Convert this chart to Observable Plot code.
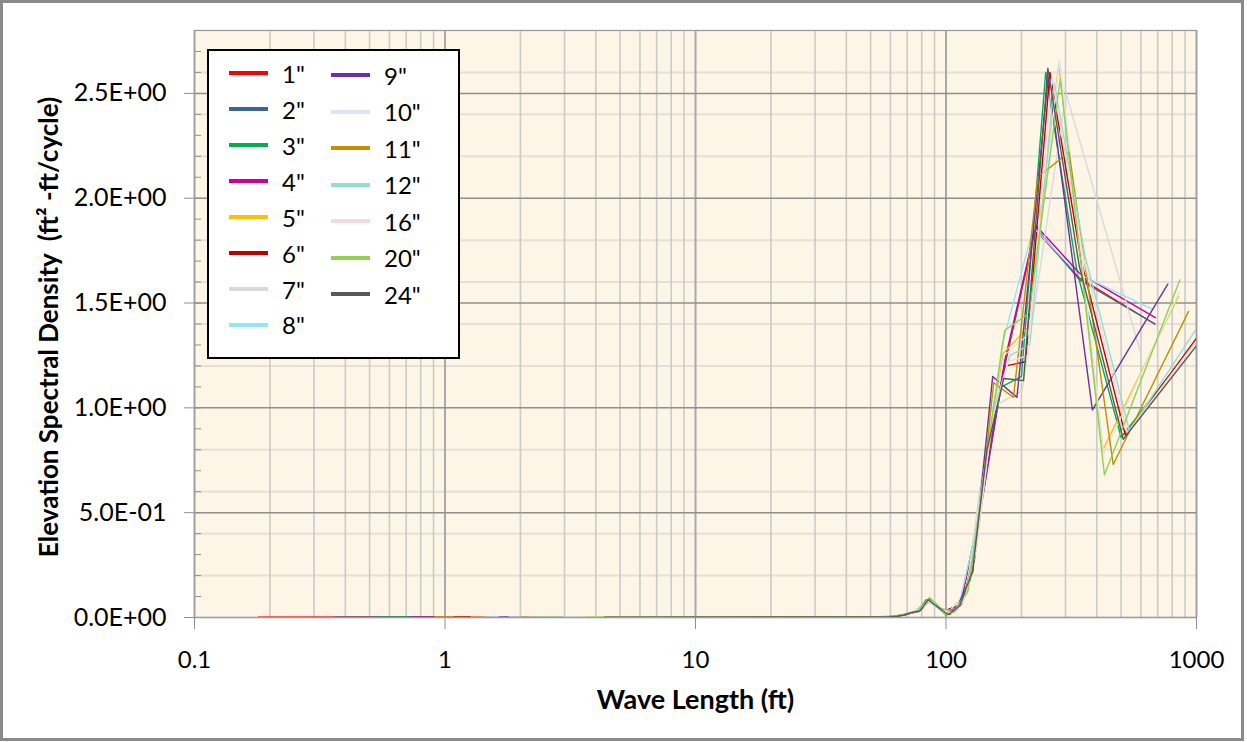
<!DOCTYPE html>
<html>
<head>
<meta charset="utf-8">
<script src="https://cdn.jsdelivr.net/npm/d3@7"></script>
<script src="https://cdn.jsdelivr.net/npm/@observablehq/plot@0.6"></script>
<style>
  html, body { margin: 0; padding: 0; background: #fff; }
  #wrap { position: relative; width: 1247px; height: 742px; overflow: hidden; font-family: Lato, "Open Sans", sans-serif; }
  #chart { position: absolute; left: 0; top: 0; }
  #border { position: absolute; left: 0; top: 0; width: 1244px; height: 741px; border: 3px solid #8a8a8a; box-sizing: border-box; pointer-events: none; }
  #legend { position: absolute; left: 207px; top: 49px; width: 253px; height: 310px; box-sizing: border-box; border: 2px solid #000; background: #fff; }
  .item { position: absolute; height: 30px; display: flex; align-items: center; font-size: 24px; color: #000; white-space: nowrap; }
  .item .sw { width: 39px; height: 4px; margin-right: 14px; }
</style>
</head>
<body>
<div id="wrap">
  <div id="chart"></div>
  <div id="legend"></div>
  <div id="border"></div>
</div>
<script>
// Series: sampling interval of each profile
const seriesNames = ['1"', '2"', '3"', '4"', '5"', '6"', '7"', '8"', '9"', '10"', '11"', '12"', '16"', '20"', '24"'];
const seriesColors = ["#FF0000", "#3E6494", "#00B050", "#CC0099", "#FFC000", "#C00000", "#D9D9D9", "#93E5F7",
                      "#7030A0", "#DCE6F2", "#C09000", "#92DED3", "#F2DCDB", "#92D050", "#595959"];

// Wave length (ft) and elevation spectral density (ft²-ft/cycle) for each series
const wl01 = [0.18, 50, 56.8, 62, 68, 75.7, 85, 97.3, 113.5, 136, 170, 227, 340.5, 681];
const psd01 = [0.002, 0.003, 0.003, 0.005, 0.013, 0.027, 0.085, 0.03, 0.055, 0.48, 1.18, 1.85, 1.62, 1.40];

const wl02 = [0.36, 50, 56.9, 62.1, 68.3, 75.9, 85.4, 97.6, 113.8, 136.6, 170.8, 227.7, 341.5, 683];
const psd02 = [0.002, 0.003, 0.003, 0.005, 0.013, 0.027, 0.085, 0.028, 0.06, 0.50, 1.20, 1.86, 1.61, 1.40];

const wl03 = [0.545, 50, 55.6, 58.8, 62.5, 66.7, 71.4, 76.9, 83.3, 90.9, 100, 111.1, 125, 142.9, 166.7, 200, 250, 333.3, 500, 1000];
const psd03 = [0.002, 0.003, 0.004, 0.004, 0.006, 0.011, 0.02, 0.028, 0.085, 0.06, 0.012, 0.045, 0.18, 0.72, 1.10, 1.15, 2.60, 1.65, 0.86, 1.32];

const wl04 = [0.724, 50, 57.1, 62.3, 68.5, 76.1, 85.6, 97.9, 114.2, 137, 171.3, 228.3, 342.5, 685];
const psd04 = [0.002, 0.003, 0.003, 0.005, 0.013, 0.028, 0.09, 0.03, 0.06, 0.52, 1.22, 1.87, 1.64, 1.43];

const wl05 = [0.91, 50, 56.4, 60.4, 65.1, 70.5, 76.9, 84.6, 94, 105.8, 120.9, 141, 169.2, 211.5, 282, 423, 846];
const psd05 = [0.002, 0.003, 0.004, 0.005, 0.009, 0.018, 0.028, 0.085, 0.045, 0.02, 0.11, 0.64, 1.26, 1.38, 2.64, 0.80, 1.53];

const wl06 = [1.087, 50, 57.8, 61.2, 65, 69.3, 74.3, 80, 86.7, 94.5, 104, 115.6, 130, 148.6, 173.3, 208, 260, 346.7, 520, 1040];
const psd06 = [0.002, 0.003, 0.004, 0.005, 0.008, 0.015, 0.025, 0.04, 0.085, 0.045, 0.016, 0.065, 0.28, 0.86, 1.20, 1.22, 2.60, 1.70, 0.87, 1.36];

const wl07 = [1.27, 50, 54.8, 60.3, 67, 75.4, 86.1, 100.5, 120.6, 150.8, 201, 301.5, 603];
const psd07 = [0.002, 0.003, 0.003, 0.004, 0.012, 0.027, 0.08, 0.015, 0.12, 1.00, 1.08, 2.50, 1.25];

const wl08 = [1.455, 50, 55.8, 60.9, 67, 74.4, 83.8, 95.7, 111.7, 134, 167.5, 223.3, 335, 670];
const psd08 = [0.002, 0.003, 0.003, 0.005, 0.012, 0.026, 0.08, 0.035, 0.04, 0.45, 1.30, 1.86, 1.64, 1.47];

const wl09 = [1.64, 50, 54.9, 59.1, 64, 69.8, 76.8, 85.3, 96, 109.7, 128, 153.6, 192, 256, 384, 768];
const psd09 = [0.002, 0.003, 0.003, 0.004, 0.007, 0.015, 0.028, 0.09, 0.035, 0.035, 0.22, 1.15, 1.05, 2.58, 0.99, 1.59];

const wl10 = [1.80, 50, 56.8, 60.9, 65.5, 71, 77.5, 85.2, 94.7, 106.5, 121.7, 142, 170.4, 213, 284, 426, 852];
const psd10 = [0.002, 0.003, 0.004, 0.005, 0.01, 0.02, 0.03, 0.085, 0.045, 0.02, 0.12, 0.70, 1.25, 1.35, 2.66, 0.78, 1.55];

const wl11 = [2.01, 50, 58.1, 62, 66.4, 71.5, 77.5, 84.5, 93, 103.3, 116.3, 132.9, 155, 186, 232.5, 310, 465, 930];
const psd11 = [0.002, 0.003, 0.005, 0.006, 0.011, 0.02, 0.03, 0.085, 0.05, 0.015, 0.07, 0.36, 1.12, 1.05, 2.10, 2.22, 0.73, 1.46];

const wl12 = [2.17, 50, 56.8, 60, 63.5, 67.5, 72, 77.1, 83.1, 90, 98.2, 108, 120, 135, 154.3, 180, 216, 270, 360, 540, 1080];
const psd12 = [0.002, 0.003, 0.004, 0.005, 0.007, 0.013, 0.022, 0.03, 0.07, 0.07, 0.03, 0.025, 0.11, 0.42, 0.98, 1.25, 1.30, 2.55, 1.72, 0.89, 1.44];

const wl16 = [2.99, 50, 55.8, 58.9, 62.4, 66.3, 70.7, 75.7, 81.5, 88.3, 96.4, 106, 117.8, 132.5, 151.4, 176.7, 212, 265, 353.3, 530, 1060];
const psd16 = [0.002, 0.003, 0.004, 0.004, 0.006, 0.01, 0.018, 0.027, 0.05, 0.08, 0.035, 0.02, 0.08, 0.33, 0.92, 1.22, 1.25, 2.58, 1.72, 0.88, 1.36];

const wl20 = [3.65, 50, 57.2, 61.3, 66, 71.5, 78, 85.8, 95.3, 107.3, 122.6, 143, 171.6, 214.5, 286, 429, 858];
const psd20 = [0.002, 0.003, 0.004, 0.006, 0.012, 0.022, 0.035, 0.095, 0.045, 0.025, 0.13, 0.72, 1.37, 1.45, 2.57, 0.68, 1.61];

const wl24 = [4.32, 50, 53.7, 56.7, 60, 63.8, 68, 72.9, 78.5, 85, 92.7, 102, 113.3, 127.5, 145.7, 170, 204, 255, 340, 510, 1020];
const psd24 = [0.002, 0.003, 0.003, 0.003, 0.004, 0.006, 0.012, 0.024, 0.03, 0.085, 0.05, 0.013, 0.055, 0.22, 0.80, 1.14, 1.13, 2.62, 1.68, 0.85, 1.31];

// Axis ticks and labels
const xTicks = [0.1, 1, 10, 100, 1000];
const xTickLabels = ["0.1", "1", "10", "100", "1000"];
const yTicks = [0, 0.5, 1.0, 1.5, 2.0, 2.5];
const yTickLabels = ["0.0E+00", "5.0E-01", "1.0E+00", "1.5E+00", "2.0E+00", "2.5E+00"];
const xTitle = "Wave Length (ft)";
const yTitle = "Elevation Spectral Density\u00a0 (ft\u00b2 -ft/cycle)";

const wavelengths = [wl01, wl02, wl03, wl04, wl05, wl06, wl07, wl08, wl09, wl10, wl11, wl12, wl16, wl20, wl24];
const densities = [psd01, psd02, psd03, psd04, psd05, psd06, psd07, psd08, psd09, psd10, psd11, psd12, psd16, psd20, psd24];

// Long table, in series order so the coarser samplings draw on top
const rows = seriesNames.flatMap((name, i) =>
  wavelengths[i].map((w, j) => ({series: name, wl: w, psd: densities[i][j]})));

// Grid structure: minor log grid (2..9 in each decade), minor value grid every 0.2, inner ticks every 0.1
const xMinorGrid = [];
for (const base of [0.1, 1, 10, 100]) for (let m = 2; m <= 9; m++) xMinorGrid.push(+(base * m).toPrecision(3));
const yMinorGrid = [0.2, 0.4, 0.6, 0.8, 1.2, 1.4, 1.6, 1.8, 2.2, 2.4, 2.6, 2.8];
const yInnerTicks = d3.range(1, 28).map(i => i / 10);

const W = 1247, H = 742, mL = 194, mR = 51, mT = 30, mB = 125;
const frameW = W - mL - mR;

const chart = Plot.plot({
  width: W,
  height: H,
  marginLeft: mL,
  marginRight: mR,
  marginTop: mT,
  marginBottom: mB,
  style: {fontFamily: "Lato, 'Open Sans', sans-serif", background: "transparent", color: "#000"},
  x: {type: "log", domain: [0.1, 1000]},
  y: {domain: [0, 2.8]},
  color: {domain: seriesNames, range: seriesColors},
  marks: [
    Plot.frame({fill: "#FDF5E6", stroke: null}),
    Plot.ruleY(yMinorGrid, {stroke: "#E4DFD7", strokeWidth: 2}),
    Plot.ruleX(xMinorGrid, {stroke: "#CBCBCB", strokeWidth: 1.6}),
    Plot.ruleX(xTicks, {stroke: "#A9A9A9", strokeWidth: 2}),
    Plot.ruleY(yTicks, {stroke: "#8F8F8F", strokeWidth: 1.5}),
    Plot.tickY(yInnerTicks, {stroke: "#8F8F8F", strokeWidth: 1, insetRight: frameW - 7}),
    Plot.line(rows, {x: "wl", y: "psd", z: "series", stroke: "series", strokeWidth: 1.4, clip: true}),
    Plot.frame({stroke: "#9C9C9C"}),
    Plot.axisX({
      ticks: xTicks, tickFormat: d => xTickLabels[xTicks.indexOf(d)],
      tickSize: 12, tickPadding: 21, fontSize: 24, stroke: "#8F8F8F", fill: "#000", label: null
    }),
    Plot.axisY({
      ticks: yTicks, tickFormat: d => yTickLabels[yTicks.indexOf(d)],
      tickSize: 10, tickPadding: 18, fontSize: 25, stroke: "#8F8F8F", fill: "#000", label: null
    }),
    Plot.text([xTitle], {frameAnchor: "bottom", lineAnchor: "middle", dy: 83, fontSize: 27, fontWeight: "bold", fill: "#000"}),
    Plot.text([yTitle], {frameAnchor: "left", textAnchor: "middle", lineAnchor: "middle", dx: -145, dy: 3, rotate: -90, fontSize: 26, fontWeight: "bold", fill: "#000"})
  ]
});
document.getElementById("chart").append(chart);

// Legend: two columns, eight rows then seven
const legend = document.getElementById("legend");
seriesNames.forEach((name, i) => {
  const col = i < 8 ? 0 : 1;
  const row = col === 0 ? i : i - 8;
  const item = document.createElement("div");
  item.className = "item";
  item.style.left = (col === 0 ? 20 : 122) + "px";
  item.style.top = (col === 0 ? 7.3 + 35.95 * row : 9 + 36.5 * row) + "px";
  const sw = document.createElement("span");
  sw.className = "sw";
  sw.style.background = seriesColors[i];
  const label = document.createElement("span");
  label.textContent = name;
  item.append(sw, label);
  legend.append(item);
});
</script>
</body>
</html>
